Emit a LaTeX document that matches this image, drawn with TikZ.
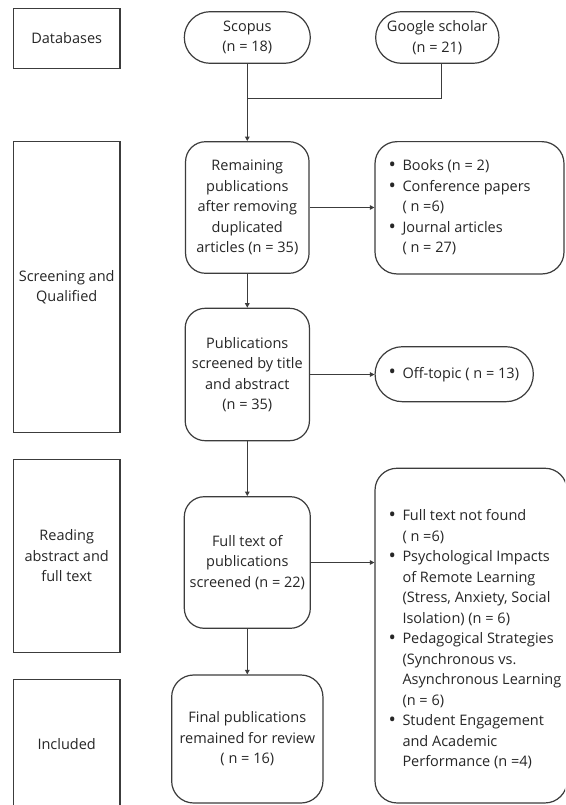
\documentclass[tikz,border=0pt]{standalone}
\usepackage{graphicx}
\usepackage{fontspec}
\setmainfont{Open Sans}
\usetikzlibrary{arrows.meta}
\definecolor{linec}{HTML}{3C3C3C}
\definecolor{txtc}{HTML}{262626}
\newcommand{\fsz}{\fontsize{14.5}{20.5}\selectfont}
\newcommand{\bul}{\makebox[13.8pt][l]{\raisebox{-0.8pt}{\scalebox{1.35}{\textbullet}}}}
\newcommand{\ind}{\hspace*{13.8pt}}
\begin{document}
\begin{tikzpicture}[x=1pt,y=-1pt,
  base/.style={draw=linec, line width=1.2pt, text=txtc, font=\fsz, align=center, inner sep=0pt},
  sqbox/.style={base, rectangle, minimum width=106.7pt},
  rbox/.style={base, rectangle, rounded corners=20pt},
  pill/.style={base, rectangle, rounded corners=25.8pt},
  txt/.style={text=txtc, font=\fsz, align=left, inner sep=0pt},
  conn/.style={draw=linec, line width=1.2pt},
  arr/.style={conn, -{Triangle[length=4.5pt,width=4.5pt]}}
]
\useasboundingbox (0,0) rectangle (565,805);
\fill[white] (0,0) rectangle (565,805);
\clip (0,0) rectangle (565,805);

% left stage boxes
\node[sqbox, minimum height=60pt] (db) at (66.7,38.3) {Databases};
\node[sqbox, minimum height=290.3pt] (sq) at (66.7,287) {Screening and\\Qualified};
\node[sqbox, minimum height=193.4pt] (rf) at (66.7,556) {Reading\\abstract and\\full text};
\node[sqbox, minimum height=130pt] (inc) at (66.7,744.3) {Included};

% centre column
\node[pill, minimum width=126pt, minimum height=51.6pt] (sc) at (247.3,37.5) {Scopus\\(n = 18)};
\node[pill, minimum width=123.3pt, minimum height=51.6pt] (gs) at (437.3,37.5) {Google scholar\\(n = 21)};
\node[rbox, minimum width=123.5pt, minimum height=131.6pt] (rem) at (247.3,207.5) {Remaining\\publications\\after removing\\duplicated\\articles (n = 35)};
\node[rbox, minimum width=124.3pt, minimum height=132.4pt] (pub) at (247.3,374.5) {Publications\\screened by title\\and abstract\\(n = 35)};
\node[rbox, minimum width=126pt, minimum height=131.6pt] (ft) at (247.3,562.5) {Full text of\\publications\\screened (n = 22)};
\node[rbox, rounded corners=22pt, minimum width=151.3pt, minimum height=128pt] (fin) at (247.3,739) {Final publications\\remained for review\\( n = 16)};

% right column
\node[rbox, rounded corners=22pt, minimum width=189pt, minimum height=132.3pt] (bk) at (469.5,207.8) {};
\node[pill, rounded corners=27.5pt, minimum width=158.3pt, minimum height=55pt] (ot) at (454.2,374.2) {};
\node[rbox, rounded corners=22pt, minimum width=192pt, minimum height=334.7pt] (big) at (471,635.6) {};

\node[txt, anchor=west] (bkt) at (388.5,207.5) {\bul Books (n = 2)\\\bul Conference papers\\\ind( n =6)\\\bul Journal articles\\\ind( n = 27)};
\node[txt, anchor=west] (ott) at (388.5,374.3) {\bul Off-topic ( n = 13)};
\node[txt, anchor=west] (bigt) at (388.5,639.2) {\bul Full text not found\\\ind( n =6)\\\bul Psychological Impacts\\\ind of Remote Learning\\\ind(Stress, Anxiety, Social\\\ind Isolation) (n = 6)\\\bul Pedagogical Strategies\\\ind(Synchronous vs.\\\ind Asynchronous Learning\\\ind(n = 6)\\\bul Student Engagement\\\ind and Academic\\\ind Performance (n =4)};

% connectors
\coordinate (j1) at (247.3,98.3);
\coordinate (j2) at (441.7,98.3);
\draw[conn] (sc.south) -- (j1) -- (j2) -- (j2 |- gs.south);
\draw[arr] (j1) -- (rem.north);
\draw[arr] (rem.south) -- (pub.north);
\draw[arr] (rem.east) -- (rem.east -| bk.west);
\draw[arr] (pub.east) -- (pub.east -| ot.west);
\draw[arr] (pub.south) -- (ft.north);
\draw[arr] (ft.east) -- (ft.east -| big.west);
\draw[arr] (ft.south) -- (fin.north);
\end{tikzpicture}
\end{document}
